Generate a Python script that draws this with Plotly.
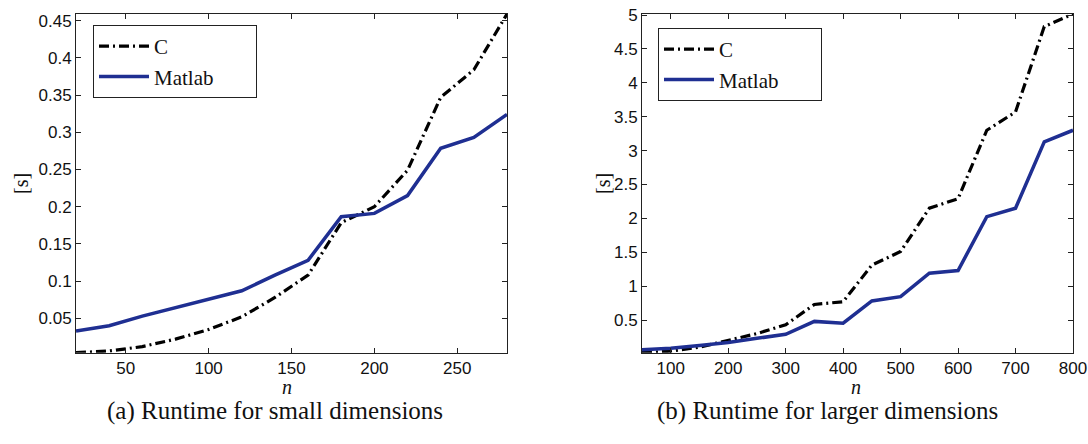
import plotly.graph_objects as go

# ---- data: small dimensions ----
n_small = [20, 40, 60, 80, 100, 120, 140, 160, 180, 200, 220, 240, 260, 280]
c_small = [0.0038, 0.006, 0.012, 0.022, 0.035, 0.052, 0.078, 0.108, 0.1785, 0.200, 0.249, 0.347, 0.384, 0.459]
m_small = [0.033, 0.040, 0.053, 0.064, 0.076, 0.087, 0.108, 0.128, 0.1866, 0.191, 0.215, 0.2785, 0.293, 0.324]

# ---- data: larger dimensions ----
n_large = [50, 100, 150, 200, 250, 300, 350, 400, 450, 500, 550, 600, 650, 700, 750, 800]
c_large = [0.018, 0.04, 0.10, 0.20, 0.30, 0.43, 0.73, 0.77, 1.31, 1.51, 2.15, 2.29, 3.30, 3.57, 4.83, 5.015]
m_large = [0.06, 0.085, 0.125, 0.17, 0.23, 0.29, 0.48, 0.453, 0.782, 0.845, 1.19, 1.23, 2.025, 2.15, 3.13, 3.30]

yt_small = [0.05, 0.1, 0.15, 0.2, 0.25, 0.3, 0.35, 0.4, 0.45]
yt_small_txt = ["0.05", "0.1", "0.15", "0.2", "0.25", "0.3", "0.35", "0.4", "0.45"]
xt_small = [50, 100, 150, 200, 250]
yt_large = [0.5, 1, 1.5, 2, 2.5, 3, 3.5, 4, 4.5, 5]
yt_large_txt = ["0.5", "1", "1.5", "2", "2.5", "3", "3.5", "4", "4.5", "5"]
xt_large = [100, 200, 300, 400, 500, 600, 700, 800]

series_names = ["C", "Matlab"]
captions = ["(a) Runtime for small dimensions", "(b) Runtime for larger dimensions"]

BLUE = "#1f2f92"
DASH = "10px,4px,2px,4px"
SERIF = "Liberation Serif, DejaVu Serif, serif"
SANS = "Liberation Sans, Arial, sans-serif"

W, H = 1088, 444


def px(x):
    return x / W


def py(y):
    return 1 - y / H


PAD = "\u00a0" * 7

fig = go.Figure()
fig.add_trace(go.Scatter(x=n_small, y=c_small, name=series_names[0], mode="lines",
                         line=dict(color="black", width=3.2, dash=DASH), xaxis="x", yaxis="y", legend="legend"))
fig.add_trace(go.Scatter(x=n_small, y=m_small, name=series_names[1] + PAD, mode="lines",
                         line=dict(color=BLUE, width=3.5), xaxis="x", yaxis="y", legend="legend"))
fig.add_trace(go.Scatter(x=n_large, y=c_large, name=series_names[0], mode="lines",
                         line=dict(color="black", width=3.2, dash=DASH), xaxis="x2", yaxis="y2", legend="legend2"))
fig.add_trace(go.Scatter(x=n_large, y=m_large, name=series_names[1] + PAD, mode="lines",
                         line=dict(color=BLUE, width=3.5), xaxis="x2", yaxis="y2", legend="legend2"))

ydom = [py(352.7), py(14)]

axis_common = dict(showline=True, linecolor="#222", linewidth=1, mirror="ticks", ticks="inside",
                   ticklen=5, tickcolor="#222", showgrid=False, zeroline=False, automargin=False,
                   ticklabeloverflow="allow",
                   tickfont=dict(family=SANS, size=17, color="#111"))

legend_common = dict(xanchor="left", yanchor="top", bgcolor="white",
                     bordercolor="#222", borderwidth=1, font=dict(family=SERIF, size=21, color="#111"),
                     itemwidth=50, tracegroupgap=0)

fig.update_layout(
    template="none",
    width=W, height=H, margin=dict(l=0, r=0, t=0, b=0, autoexpand=False),
    paper_bgcolor="white", plot_bgcolor="white", showlegend=True,
    xaxis=dict(domain=[px(76), px(507)], range=[min(n_small), max(n_small)], tickvals=xt_small,
               anchor="y", **axis_common),
    yaxis=dict(domain=ydom, range=[min(c_small + m_small), max(c_small + m_small)],
               tickvals=yt_small, ticktext=yt_small_txt, anchor="x", **axis_common),
    xaxis2=dict(domain=[px(642), px(1073)], range=[min(n_large), max(n_large)], tickvals=xt_large,
                anchor="y2", **axis_common),
    yaxis2=dict(domain=ydom, range=[min(c_large + m_large), max(c_large + m_large)],
                tickvals=yt_large, ticktext=yt_large_txt, anchor="x2", **axis_common),
    legend=dict(x=px(93), y=py(25), **legend_common),
    legend2=dict(x=px(658), y=py(28), **legend_common),
)

annos = []
for xc, cap in zip([275, 827], captions):
    annos.append(dict(x=px(xc), y=py(411), xref="paper", yref="paper", text=cap, showarrow=False,
                      font=dict(family=SERIF, size=25, color="#111"), xanchor="center", yanchor="middle"))
for xc in [287, 856]:
    annos.append(dict(x=px(xc), y=py(387), xref="paper", yref="paper", text="<i>n</i>", showarrow=False,
                      font=dict(family=SERIF, size=20, color="#111"), xanchor="center", yanchor="middle"))
for xc in [21, 603]:
    annos.append(dict(x=px(xc), y=py(184), xref="paper", yref="paper", text="[s]", showarrow=False,
                      textangle=-90, font=dict(family=SERIF, size=20, color="#111"),
                      xanchor="center", yanchor="middle"))
fig.update_layout(annotations=annos)

fig.write_html("out.html", config={"displayModeBar": False},
               post_script="document.body.style.margin='0';document.body.style.overflow='hidden';")
